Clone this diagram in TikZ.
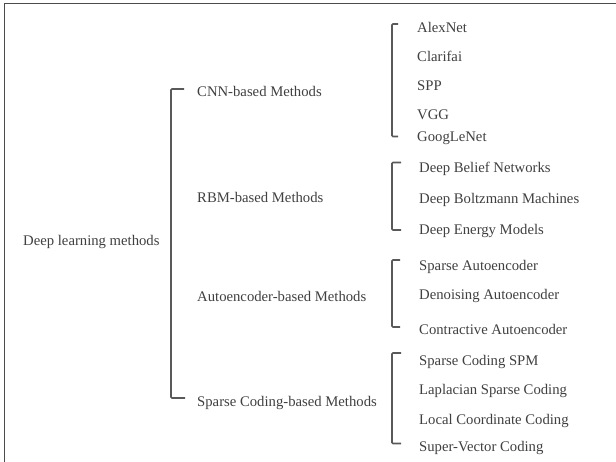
\documentclass[tikz,border=0pt]{standalone}
\usepackage{fontspec}
\setmainfont{Liberation Serif}
\begin{document}
\begin{tikzpicture}[x=1pt,y=-1pt,
  lbl/.style={anchor=west,inner sep=0pt,text=black!75,font=\fontsize{14.7}{16}\selectfont},
  brk/.style={draw=black!65,line width=1.6pt,rounded corners=1pt}]
\useasboundingbox (0,0) rectangle (616,462);
\fill[white] (0,0) rectangle (616,462);
% frame (left and top edges)
\coordinate (fbl) at (4.5,462);
\coordinate (ftl) at (4.5,3.5);
\coordinate (ftr) at (616,3.5);
\draw[black!70,line width=1.3pt] (fbl) -- (ftl) -- (ftr);
% root
\node[lbl] (root) at (23,241.5) {Deep learning methods};
% categories
\node[lbl] (cnn) at (197,91) {CNN-based Methods};
\node[lbl] (rbm) at (197,197) {RBM-based Methods};
\node[lbl] (ae) at (197,296.5) {Autoencoder-based Methods};
\node[lbl] (sc) at (197,402.5) {Sparse Coding-based Methods};
% main bracket
\coordinate (mt) at (184,89);
\coordinate (mb) at (185,398);
\draw[brk] (mt) -- ++(-13,0) |- (mb);
% CNN items
\node[lbl] (c1) at (417,27.5) {AlexNet};
\node[lbl] (c2) at (417,56.5) {Clarifai};
\node[lbl] (c3) at (417,85.5) {SPP};
\node[lbl] (c4) at (417,115) {VGG};
\node[lbl] (c5) at (417,138.5) {GoogLeNet};
\coordinate (cbt) at (398,24);
\coordinate (cbb) at (398,136.5);
\draw[brk] (cbt) -- ++(-6,0) |- (cbb);
% RBM items
\node[lbl] (r1) at (419,169) {Deep Belief Networks};
\node[lbl] (r2) at (419,199.5) {Deep Boltzmann Machines};
\node[lbl] (r3) at (419,231) {Deep Energy Models};
\coordinate (rbt) at (401,162.5);
\coordinate (rbb) at (401,230);
\draw[brk] (rbt) -- ++(-9,0) |- (rbb);
% Autoencoder items
\node[lbl] (a1) at (419,267) {Sparse Autoencoder};
\node[lbl] (a2) at (419,296) {Denoising Autoencoder};
\node[lbl] (a3) at (419,329.5) {Contractive Autoencoder};
\coordinate (abt) at (400,260);
\coordinate (abb) at (400,327);
\draw[brk] (abt) -- ++(-8,0) |- (abb);
% Sparse coding items
\node[lbl] (s1) at (419,361.5) {Sparse Coding SPM};
\node[lbl] (s2) at (419,390.5) {Laplacian Sparse Coding};
\node[lbl] (s3) at (419,420.5) {Local Coordinate Coding};
\node[lbl] (s4) at (419,448) {Super-Vector Coding};
\coordinate (sbt) at (401,353);
\coordinate (sbb) at (401,443.5);
\draw[brk] (sbt) -- ++(-9,0) |- (sbb);
\end{tikzpicture}
\end{document}
